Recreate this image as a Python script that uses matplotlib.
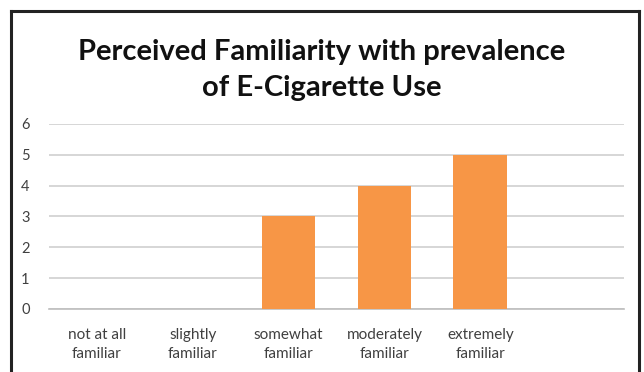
import numpy as np
import matplotlib
matplotlib.use('Agg')
from matplotlib import pyplot as plt
from matplotlib.lines import Line2D

# data
categories = ['not at all\nfamiliar', 'slightly\nfamiliar', 'somewhat\nfamiliar',
              'moderately\nfamiliar', 'extremely\nfamiliar', '']
values = [0, 0, 3, 4, 5, 0]
yticks = [0, 1, 2, 3, 4, 5, 6]
title = 'Perceived Familiarity with prevalence\nof E-Cigarette Use'

plt.rcParams['font.family'] = ['Lato', 'DejaVu Sans']

fig = plt.figure(figsize=(6.44, 3.72), dpi=100)
ax = fig.add_axes([0.0761, 0.1694, 0.8929, 0.4973])

x = np.arange(len(categories))
ax.bar(x, values, width=0.56, color='#F79646', zorder=3)

ax.set_xlim(-0.5, len(categories) - 0.5)
ax.set_ylim(0, 6)
ax.set_yticks(yticks)
ax.set_xticks(x)
ax.set_xticklabels(categories, fontsize=11, color='#404040', linespacing=1.4)
ax.tick_params(axis='y', labelsize=10.5, labelcolor='#404040', length=0, pad=14)
ax.tick_params(axis='x', length=0, pad=14)
ax.grid(axis='y', color='#D0D0D0', linewidth=1.2, zorder=0)
for side in ['top', 'right', 'left']:
    ax.spines[side].set_visible(False)
ax.spines['bottom'].set_color('#BEBEBE')
ax.spines['bottom'].set_linewidth(1.2)

fig.text(0.5, 0.812, title, ha='center', va='center', fontsize=21,
         fontweight='bold', color='#111111', linespacing=1.5)

# chart frame: top, left and right edges (bottom runs off the picture)
x0, x1, ytop = 10.5 / 644, 639 / 644, 1 - 10.5 / 372
for xs, ys in [([x0, x1], [ytop, ytop]), ([x0, x0], [0, ytop]), ([x1, x1], [0, ytop])]:
    fig.add_artist(Line2D(xs, ys, transform=fig.transFigure, color='#222222',
                          linewidth=2.2, solid_capstyle='projecting'))

fig.savefig('out.png', dpi=100)
